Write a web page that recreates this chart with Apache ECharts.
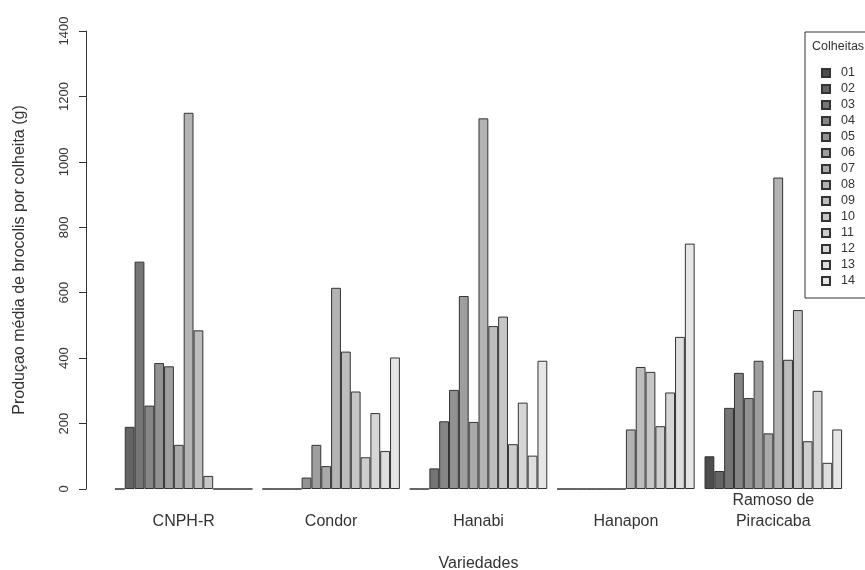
<!DOCTYPE html>
<html>
<head>
<meta charset="utf-8">
<script src="https://cdn.jsdelivr.net/npm/echarts@6/dist/echarts.min.js"></script>
<style>
html,body{margin:0;padding:0;background:#fff;}
#chart{width:865px;height:570px;}
</style>
</head>
<body>
<div id="chart"></div>
<script>
// Categories (varieties) and harvest labels
const varieties = ['CNPH-R', 'Condor', 'Hanabi', 'Hanapon', 'Ramoso de\nPiracicaba'];
const harvests = ['01','02','03','04','05','06','07','08','09','10','11','12','13','14'];
const yTicks = [0, 200, 400, 600, 800, 1000, 1200, 1400];

// Mean broccoli yield per harvest (g), one array per variety, harvests 01..14
const cnphR   = [0, 190, 695, 255, 385, 375, 135, 1150, 485, 40, 0, 0, 0, 0];
const condor  = [0, 0, 0, 0, 35, 135, 70, 615, 420, 298, 97, 232, 116, 402];
const hanabi  = [0, 0, 63, 207, 303, 590, 205, 1133, 498, 527, 137, 264, 102, 392];
const hanapon = [0, 0, 0, 0, 0, 0, 0, 182, 373, 358, 192, 295, 465, 750];
const ramoso  = [100, 55, 248, 355, 278, 392, 170, 952, 395, 547, 146, 300, 80, 182];

const byVariety = [cnphR, condor, hanabi, hanapon, ramoso];

const grays = ['#4d4d4d','#646464','#757575','#858585','#929292','#9e9e9e','#a9a9a9',
               '#b3b3b3','#bdbdbd','#c6c6c6','#cecece','#d6d6d6','#dedede','#e6e6e6'];

const FONT = 'Liberation Sans, Arial, sans-serif';
const TXT = '#333';

const series = harvests.map((h, i) => ({
  name: h,
  type: 'bar',
  barGap: '0%',
  barCategoryGap: '6.67%',
  data: byVariety.map(v => v[i]),
  itemStyle: { color: grays[i], borderColor: '#333', borderWidth: 1 },
  emphasis: { disabled: true },
  animation: false
}));

const chart = echarts.init(document.getElementById('chart'), null, { renderer: 'canvas' });
chart.setOption({
  backgroundColor: '#fff',
  animation: false,
  textStyle: { fontFamily: FONT },
  title: {
    text: 'Colheitas',
    left: 807, top: 35,
    textStyle: { fontFamily: FONT, fontSize: 12.5, fontWeight: 'normal', color: TXT }
  },
  legend: {
    orient: 'vertical',
    left: 805, top: 32,
    padding: [34, 30, 10, 16],
    borderColor: '#333', borderWidth: 1,
    itemWidth: 8, itemHeight: 8, itemGap: 2,
    icon: 'rect',
    selectedMode: false,
    textStyle: { fontFamily: FONT, fontSize: 12.5, color: TXT, lineHeight: 14, padding: [0, 0, 0, 6] },
    data: harvests
  },
  grid: { left: 110, width: 737, top: 31, bottom: 81, outerBoundsMode: 'none', containLabel: false },
  xAxis: {
    type: 'category',
    data: varieties,
    axisLine: { show: false },
    axisTick: { show: false },
    axisLabel: {
      fontFamily: FONT, fontSize: 16, color: TXT,
      verticalAlign: 'bottom', lineHeight: 21, margin: 43, interval: 0
    },
    name: 'Variedades',
    nameLocation: 'middle',
    nameGap: 67,
    nameTextStyle: { fontFamily: FONT, fontSize: 16, color: TXT }
  },
  yAxis: {
    type: 'value',
    min: 0, max: 1400, interval: 200,
    offset: 24,
    axisLine: { show: true, lineStyle: { color: '#333', width: 1 } },
    axisTick: { show: true, length: 7, lineStyle: { color: '#333' } },
    splitLine: { show: false },
    axisLabel: {
      rotate: 90, margin: 15, fontFamily: FONT, fontSize: 13, color: TXT,
      formatter: v => (yTicks.indexOf(v) >= 0 ? String(v) : '')
    },
    name: 'Produçao média de brocolis por colheita (g)',
    nameLocation: 'middle',
    nameGap: 58,
    nameTextStyle: { fontFamily: FONT, fontSize: 16, color: TXT }
  },
  series: series
});
</script>
</body>
</html>
